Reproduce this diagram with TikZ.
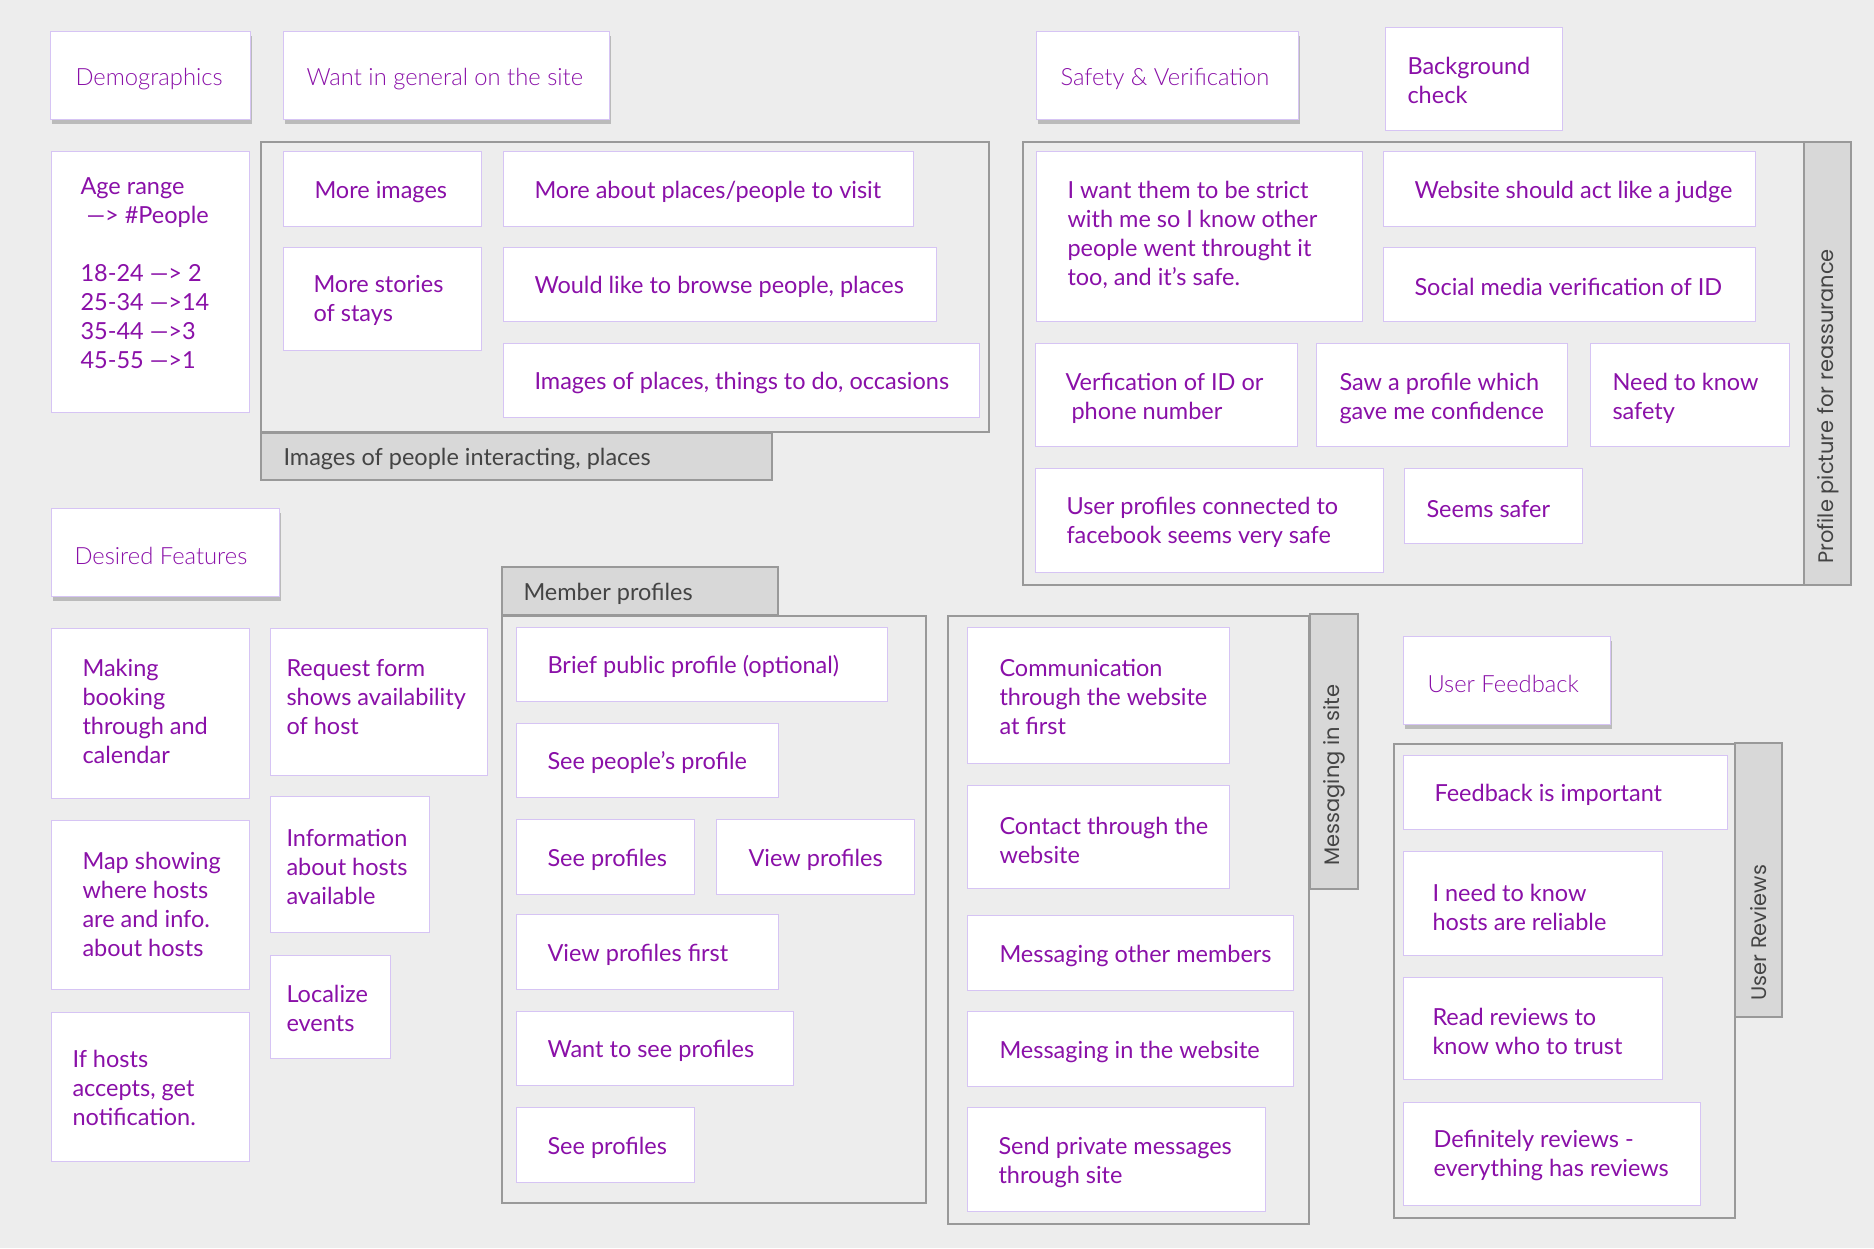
\documentclass[tikz,border=0pt]{standalone}
\usepackage{fontspec}
\setmainfont{Lato}
\newfontfamily\headfont{Lato Light}
\newfontfamily\sidefont{Poppins}
\usepackage{tikz}
\usetikzlibrary{shadows}
\definecolor{ink}{RGB}{138,16,168}
\definecolor{paper}{RGB}{237,237,237}
\definecolor{edge}{RGB}{214,196,244}
\definecolor{frameline}{RGB}{153,153,153}
\definecolor{tabfill}{RGB}{216,216,216}
\definecolor{tabtext}{RGB}{68,68,68}

\begin{document}
\begin{tikzpicture}[x=0.4pt, y=-0.4pt,
		card/.style={fill=white, draw=edge, line width=0.4pt},
		head/.style={card, drop shadow={shadow xshift=0.8pt, shadow yshift=-2pt, opacity=0.45}},
		group/.style={draw=frameline, line width=0.7pt},
		tab/.style={fill=tabfill, draw=frameline, line width=0.7pt},
		txt/.style={anchor=west, align=left, inner sep=0pt, yshift=-1.1pt, text=ink, font=\fontsize{9.4}{11.6}\selectfont},
		headtxt/.style={txt, yshift=-0.5pt, font=\headfont\fontsize{9.5}{11.6}\selectfont},
		tabtxt/.style={txt, text=tabtext},
		sidetxt/.style={anchor=west, rotate=90, inner sep=0pt, text=tabtext, font=\sidefont\fontsize{8.4}{10}\selectfont}]
					\useasboundingbox (0,0) rectangle (1874,1248);
					\fill [paper] (0,0) rectangle (1874,1248);

					\draw [group] (261,142) rectangle (989,432);
					\draw [tab] (261,433) rectangle (772,480);
					\draw [group] (1023,142) rectangle (1804,585);
					\draw [tab] (1804,142) rectangle (1851,585);
					\draw [group] (502,616) rectangle (926,1203);
					\draw [tab] (502,567) rectangle (778,615);
					\draw [group] (948,616) rectangle (1309,1224);
					\draw [tab] (1310,614) rectangle (1358,889);
					\draw [group] (1394,744) rectangle (1735,1218);
					\draw [tab] (1735,743) rectangle (1782,1017);

					\node [tabtxt] (imgtab) at (283,456) {Images of people interacting, places};
					\node [sidetxt] (safetab) at (1828,564) {Profile picture for reassurance};
					\node [tabtxt] (membertab) at (523,591) {Member profiles};
					\node [sidetxt] (msgtab) at (1334,866) {Messaging in site};
					\node [sidetxt] (reviewtab) at (1759,1001) {User Reviews};

					\draw [head] (50,31) rectangle (250,119);
					\draw [head] (283,31) rectangle (609,119);
					\draw [head] (1036,31) rectangle (1298,119);
					\draw [head] (51,508) rectangle (279,596);
					\draw [head] (1403,636) rectangle (1610,724);
					\node [headtxt] (demo) at (75,75) {Demographics};
					\node [headtxt] (want) at (306,75) {Want in general on the site};
					\node [headtxt] (safety) at (1060,75) {Safety \& Verification};
					\node [headtxt] (desired) at (74,552) {Desired Features};
					\node [headtxt] (feedback) at (1427,680) {User Feedback};

					\draw [card] (1385,27) rectangle (1562,130);
					\node [txt] (background) at (1407,78) {Background\\check};

					\draw [card] (51,151) rectangle (249,412);
					\node [txt] (agerange) at (80,270) {Age range\\\ —> \#People\\[11.6pt]18-24 —> 2\\25-34 —>14\\35-44 —>3\\45-55 —>1};

					\draw [card] (283,151) rectangle (481,226);
					\draw [card] (503,151) rectangle (913,226);
					\draw [card] (283,247) rectangle (481,350);
					\draw [card] (503,247) rectangle (936,321);
					\draw [card] (503,343) rectangle (979,417);
					\node [txt] (moreimg) at (314,189) {More images};
					\node [txt] (moreabout) at (534,189) {More about places/people to visit};
					\node [txt] (morestories) at (313,298) {More stories\\of stays};
					\node [txt] (browse) at (534,284) {Would like to browse people, places};
					\node [txt] (imgplaces) at (534,380) {Images of places, things to do, occasions};

					\draw [card] (1036,151) rectangle (1362,321);
					\draw [card] (1383,151) rectangle (1755,226);
					\draw [card] (1383,247) rectangle (1755,321);
					\draw [card] (1035,343) rectangle (1297,446);
					\draw [card] (1316,343) rectangle (1567,446);
					\draw [card] (1590,343) rectangle (1789,446);
					\draw [card] (1035,468) rectangle (1383,572);
					\draw [card] (1404,468) rectangle (1582,543);
					\node [txt] (strict) at (1067,232) {I want them to be strict\\with me so I know other\\people went throught it\\too, and it’s safe.};
					\node [txt] (judge) at (1414,189) {Website should act like a judge};
					\node [txt] (social) at (1414,284) {Social media verification of ID};
					\node [txt] (verify) at (1065,396) {Verfication of ID or\\\ phone number};
					\node [txt] (sawprofile) at (1339,396) {Saw a profile which\\gave me confidence};
					\node [txt] (needsafety) at (1612,396) {Need to know\\safety};
					\node [txt] (facebook) at (1066,520) {User profiles connected to\\facebook seems very safe};
					\node [txt] (safer) at (1426,506) {Seems safer};

					\draw [card] (51,628) rectangle (249,798);
					\draw [card] (51,820) rectangle (249,989);
					\draw [card] (51,1012) rectangle (249,1161);
					\draw [card] (270,628) rectangle (487,775);
					\draw [card] (270,796) rectangle (429,932);
					\draw [card] (270,955) rectangle (390,1058);
					\node [txt] (booking) at (82,709) {Making\\booking\\through and\\calendar};
					\node [txt] (map) at (82,902) {Map showing\\where hosts\\are and info.\\about hosts};
					\node [txt] (notify) at (72,1085) {If hosts\\accepts, get\\notification.};
					\node [txt] (request) at (286,694) {Request form\\shows availability\\of host};
					\node [txt] (info) at (286,864) {Information\\about hosts\\available};
					\node [txt] (localize) at (286,1006) {Localize\\events};

					\draw [card] (516,627) rectangle (887,701);
					\draw [card] (516,723) rectangle (778,797);
					\draw [card] (516,819) rectangle (694,894);
					\draw [card] (716,819) rectangle (914,894);
					\draw [card] (516,914) rectangle (778,989);
					\draw [card] (516,1011) rectangle (793,1085);
					\draw [card] (516,1107) rectangle (694,1182);
					\node [txt] (brief) at (547,664) {Brief public profile (optional)};
					\node [txt] (peoples) at (547,760) {See people’s profile};
					\node [txt] (seeprof) at (547,857) {See profiles};
					\node [txt] (viewprof) at (748,857) {View profiles};
					\node [txt] (viewfirst) at (547,952) {View profiles first};
					\node [txt] (wantsee) at (547,1048) {Want to see profiles};
					\node [txt] (seeprofb) at (547,1145) {See profiles};

					\draw [card] (967,627) rectangle (1229,763);
					\draw [card] (967,785) rectangle (1229,888);
					\draw [card] (967,915) rectangle (1293,990);
					\draw [card] (967,1011) rectangle (1293,1086);
					\draw [card] (967,1107) rectangle (1265,1211);
					\node [txt] (communication) at (999,694) {Communication\\through the website\\at first};
					\node [txt] (contact) at (999,838) {Contact through the\\website};
					\node [txt] (msgother) at (999,953) {Messaging other members};
					\node [txt] (msgweb) at (999,1049) {Messaging in the website};
					\node [txt] (private) at (998,1160) {Send private messages\\through site};

					\draw [card] (1403,755) rectangle (1727,829);
					\draw [card] (1403,851) rectangle (1662,955);
					\draw [card] (1403,977) rectangle (1662,1079);
					\draw [card] (1403,1102) rectangle (1700,1205);
					\node [txt] (important) at (1434,792) {Feedback is important};
					\node [txt] (reliable) at (1432,905) {I need to know\\hosts are reliable};
					\node [txt] (trust) at (1432,1029) {Read reviews to\\know who to trust};
					\node [txt] (definitely) at (1433,1153) {Definitely reviews -\\everything has reviews};
				\end{tikzpicture}
\end{document}
